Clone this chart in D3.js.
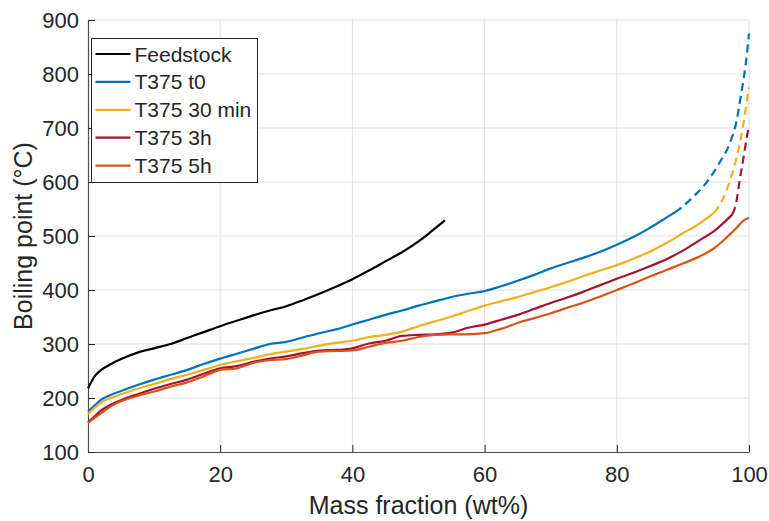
<!DOCTYPE html>
<html>
<head>
<meta charset="utf-8">
<script src="https://cdn.jsdelivr.net/npm/d3@7"></script>
<style>
  body { margin: 0; background: #fff; }
  text { font-family: "Liberation Sans", Arial, sans-serif; fill: #262626; }
</style>
</head>
<body>
<div id="chart"></div>
<script>
// Axis ticks
const xTicks = [0, 20, 40, 60, 80, 100];
const yTicks = [100, 200, 300, 400, 500, 600, 700, 800, 900];

// Series names and colours (legend order)
const seriesNames = ["Feedstock", "T375 t0", "T375 30 min", "T375 3h", "T375 5h"];
const seriesColors = ["#000000", "#0072BD", "#EDB120", "#A2142F", "#D95319"];

// Measured curves: [mass fraction wt%, boiling point °C]
const feedstock = [[0,218],[1,240],[2,252],[3.5,263],[5,272],[7.5,284],[10,292],[12.5,300],[15,311],[17.5,322],[20,333],[22.5,343],[25,353],[27.5,362],[30,370],[32.5,381],[35,393],[37.5,406],[40,420],[42.5,436],[45,453],[47.5,470],[50,490],[52,509],[54,529]];
const t0 = [[0,175],[1,186],[2,197],[3.5,206],[5,213],[7.5,224],[10,234],[12.5,243],[15,252],[17.5,263],[20,273],[22.5,282],[25,291],[27.5,300],[30,304],[32.5,312],[35,320],[37.5,327],[40,336],[42.5,345],[45,354],[47.5,362],[50,371],[52.5,379],[55,387],[57.5,393],[60,398],[62.5,407],[65,417],[67.5,428],[70,440],[72.5,450],[75,460],[77.5,471],[80,484],[82.5,498],[85,515],[87.5,534],[88.8,544]];
const t0Ext = [[88.8,544],[90,555],[91.5,572],[93.5,598],[95.5,635],[97.1,672],[98.1,712],[98.8,762],[99.5,818],[100,875]];
const t30 = [[0,170],[1,182],[2,192],[3.5,200],[5,207],[7.5,217],[10,226],[12.5,235],[15,243],[17.5,252],[20,261],[22.5,268],[25,274],[27.5,281],[30,286],[32.5,291],[35,297],[37.5,302],[40,306],[42.5,313],[45,317],[47.5,323],[50,333],[52.5,342],[55,351],[57.5,361],[60,371],[62.5,379],[65,387],[67.5,396],[70,405],[72.5,415],[75,426],[77.5,436],[80,446],[82.5,458],[85,471],[87.5,487],[90,505],[92.5,523],[94.7,543]];
const t30Ext = [[94.7,543],[96,567],[97.3,610],[98.3,654],[99.1,703],[99.7,752],[100,775]];
const t3h = [[0,155],[1,166],[2,177],[3.5,188],[5,196],[7.5,207],[10,217],[12.5,226],[15,234],[17.5,245],[20,255],[22.5,259],[25,267],[27.5,273],[30,277],[32.5,283],[35,288],[37.5,289],[40,292],[42.5,301],[45,306],[47.5,315],[50,317],[52.5,318],[55,321],[57.5,330],[60,336],[62.5,345],[65,354],[67.5,365],[70,376],[72.5,386],[75,397],[77.5,409],[80,421],[82.5,432],[85,444],[87.5,457],[90,473],[92.5,492],[95,512],[97.5,540]];
const t3hExt = [[97.5,540],[98.1,564],[98.6,604],[99.2,647],[99.6,678],[100,705]];
const t5h = [[0,154],[1,163],[2,172],[3.5,185],[5,194],[7.5,204],[10,212],[12.5,221],[15,229],[17.5,240],[20,252],[22.5,255],[25,265],[27.5,270],[30,272],[32.5,279],[35,286],[37.5,287],[40,288],[42.5,295],[45,302],[47.5,306],[50,313],[52.5,317],[55,318],[57.5,318],[60,320],[62.5,328],[65,339],[67.5,348],[70,357],[72.5,367],[75,377],[77.5,388],[80,400],[82.5,412],[85,425],[87.5,437],[90,449],[92.5,462],[95,480],[96.5,496],[98.1,515],[99.1,528],[100,534]];

// Layout
const W = 769, H = 521;
const margin = { top: 20, right: 20, bottom: 69, left: 88 };
const width = W - margin.left - margin.right,
  height = H - margin.top - margin.bottom;

const svg = d3.select("#chart").append("svg")
  .attr("width", W).attr("height", H);
const g = svg.append("g")
  .attr("transform", "translate(" + margin.left + "," + margin.top + ")");

const x = d3.scaleLinear().domain([0, 100]).range([0, width]);
const y = d3.scaleLinear().domain([100, 900]).range([height, 0]);

// Grid
g.append("g").selectAll("line").data(xTicks.slice(1)).enter().append("line")
  .attr("x1", d => x(d)).attr("x2", d => x(d))
  .attr("y1", 0).attr("y2", height)
  .attr("stroke", "#dfdfdf").attr("stroke-width", 1);
g.append("g").selectAll("line").data(yTicks.slice(1)).enter().append("line")
  .attr("y1", d => y(d)).attr("y2", d => y(d))
  .attr("x1", 0).attr("x2", width)
  .attr("stroke", "#dfdfdf").attr("stroke-width", 1);

// Axes (ticks pointing inwards like MATLAB)
const xAxis = g.append("g")
  .attr("transform", "translate(0," + height + ")")
  .call(d3.axisBottom(x).tickValues(xTicks).tickSizeInner(-7).tickSizeOuter(0).tickPadding(14));
const yAxis = g.append("g")
  .call(d3.axisLeft(y).tickValues(yTicks).tickSizeInner(-7).tickSizeOuter(0).tickPadding(9));
[xAxis, yAxis].forEach(a => {
  a.select(".domain").attr("stroke", "#4d4d4d").attr("stroke-width", 1.2);
  a.selectAll(".tick line").attr("stroke", "#262626");
  a.selectAll("text").style("font-size", "22px").attr("fill", "#262626")
    .style("font-family", "'Liberation Sans', Arial, sans-serif");
});
xAxis.selectAll("text").attr("dy", "0.71em");

// Axis labels
svg.append("text")
  .attr("x", margin.left + width / 2).attr("y", 514)
  .attr("text-anchor", "middle").style("font-size", "25px")
  .text("Mass fraction (wt%)");
svg.append("text")
  .attr("transform", "translate(32," + (margin.top + height / 2) + ") rotate(-90)")
  .attr("text-anchor", "middle").style("font-size", "25px")
  .text("Boiling point (°C)");

// Lines
const line = d3.line().x(d => x(d[0])).y(d => y(d[1])).curve(d3.curveMonotoneX);
const solid = [feedstock, t0, t30, t3h, t5h];
const dashed = [null, t0Ext, t30Ext, t3hExt, null];

solid.forEach((s, i) => {
  g.append("path").datum(s)
    .attr("fill", "none").attr("stroke", seriesColors[i])
    .attr("stroke-width", 2.2).attr("stroke-linejoin", "round")
    .attr("d", line);
});
dashed.forEach((s, i) => {
  if (!s) return;
  g.append("path").datum(s)
    .attr("fill", "none").attr("stroke", seriesColors[i])
    .attr("stroke-width", 2.2).attr("stroke-dasharray", "8,5")
    .attr("d", line);
});

// Legend
const legend = svg.append("g").attr("transform", "translate(91.5,38.5)");
legend.append("rect")
  .attr("width", 166).attr("height", 144)
  .attr("fill", "#fff").attr("stroke", "#262626").attr("stroke-width", 1);
seriesNames.forEach((name, i) => {
  const cy = 15.5 + i * 27.9;
  legend.append("line")
    .attr("x1", 4).attr("x2", 39).attr("y1", cy).attr("y2", cy)
    .attr("stroke", seriesColors[i]).attr("stroke-width", 2.2);
  legend.append("text")
    .attr("x", 43).attr("y", cy).attr("dy", "0.36em")
    .style("font-size", "21px").text(name);
});
</script>
</body>
</html>
